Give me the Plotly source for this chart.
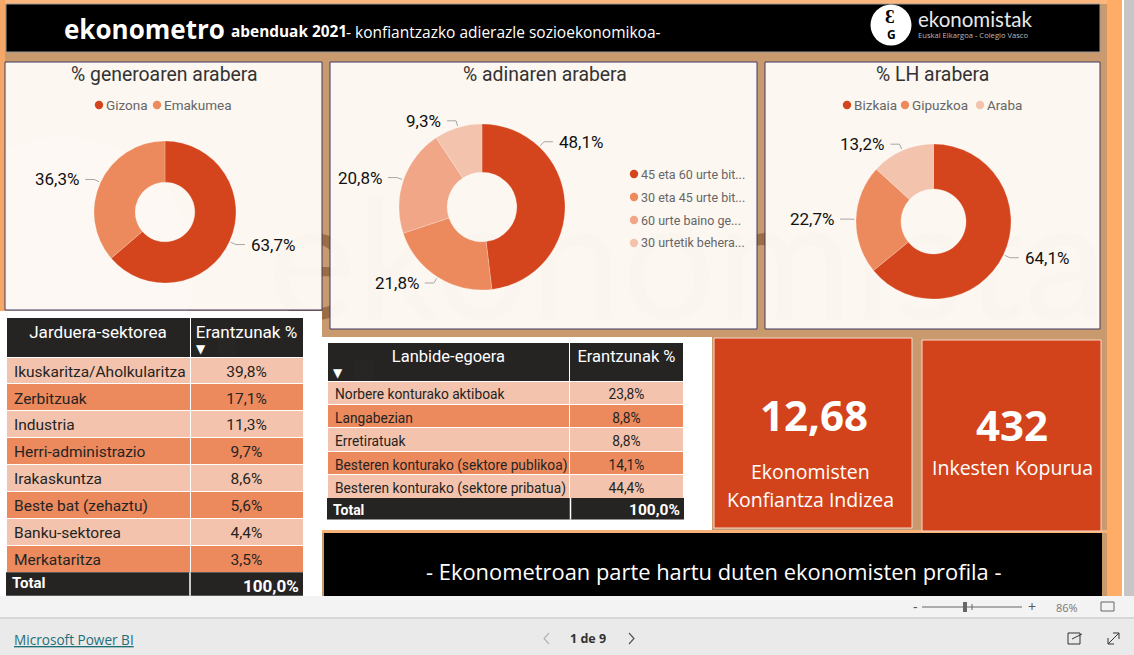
import plotly.graph_objects as go
import math

W, H = 1134, 655
FONT = "Roboto"
SANS = "Open Sans"

# ---- data ----
gender_labels = ["Gizona", "Emakumea"]
gender_values = [63.7, 36.3]
age_labels = ["45 eta 60 urte bit...", "30 eta 45 urte bit...", "60 urte baino ge...", "30 urtetik behera..."]
age_values = [48.1, 21.8, 20.8, 9.3]
lh_labels = ["Bizkaia", "Gipuzkoa", "Araba"]
lh_values = [64.1, 22.7, 13.2]

sector_names = ["Ikuskaritza/Aholkularitza", "Zerbitzuak", "Industria", "Herri-administrazio",
                "Irakaskuntza", "Beste bat (zehaztu)", "Banku-sektorea", "Merkataritza"]
sector_values = [39.8, 17.1, 11.3, 9.7, 8.6, 5.6, 4.4, 3.5]
status_names = ["Norbere konturako aktiboak", "Langabezian", "Erretiratuak",
                "Besteren konturako (sektore publikoa)", "Besteren konturako (sektore pribatua)"]
status_values = [23.8, 8.8, 8.8, 14.1, 44.4]
total_value = 100.0
kpi_index = "12,68"
kpi_surveys = "432"

RED, ORANGE, SALMON, PALE = "#D5451D", "#EC8A5E", "#F0A687", "#F4C3AD"
DARK = "#252423"
CARD = "#FFFBF7"
TAN = "#C99A6E"
AMBER = "#FFAD66"
NAVY = "#3B3663"
NB = "\u00a0"


def px(x):
    return x / W


def py(y):
    return 1 - y / H


def fmt(v):
    return f"{v:.1f}%".replace(".", ",")


shapes, notes = [], []


def rect(x0, y0, x1, y1, fill, line=None, lw=1, opacity=None, **kw):
    d = dict(type="rect", xref="paper", yref="paper", x0=px(x0), x1=px(x1), y0=py(y0), y1=py(y1),
             fillcolor=fill, line=dict(color=line or "rgba(0,0,0,0)", width=lw if line else 0), layer="below")
    if opacity is not None:
        d["opacity"] = opacity
    d.update(kw)
    shapes.append(d)


def dot(x, y, r, fill):
    shapes.append(dict(type="circle", xref="paper", yref="paper", x0=px(x - r), x1=px(x + r),
                       y0=py(y + r), y1=py(y - r), fillcolor=fill, line=dict(width=0), layer="below"))


def path(points, color, width=1):
    d = "M " + " L ".join(f"{px(x):.5f},{py(y):.5f}" for x, y in points)
    shapes.append(dict(type="path", xref="paper", yref="paper", path=d,
                       line=dict(color=color, width=width), layer="below"))


def text(x, y, s, size, color="#000000", anchor="left", family=FONT, va="middle"):
    notes.append(dict(xref="paper", yref="paper", x=px(x), y=py(y), text=s, showarrow=False,
                      xanchor=anchor, yanchor=va, borderpad=0,
                      font=dict(size=size, color=color, family=family)))


# ---- page background ----
rect(0, 0, W, H, "#FFFFFF")
rect(0, 0, 1107, 596, TAN)
# faint watermark, shows through the semi-opaque cards
dot(62, 270, 133, "rgba(255,255,255,0.25)")
shapes.append(dict(type="rect", xref="paper", yref="paper", x0=px(262), x1=px(1262), y0=py(152), y1=py(352),
                   fillcolor="rgba(0,0,0,0)", line=dict(width=0), layer="below",
                   label=dict(text="ekonomista", textposition="middle left",
                              font=dict(size=166, color="rgba(125,80,40,0.6)", family="Lato"))))
rect(0, 0, 1122, 4, "#FBB77E")
rect(0, 0, 5, 311, "#F5A768")
rect(1107, 0, 1122, 596, AMBER)
rect(1124, 0, W, 596, "#C6C6C6")

# ---- header ----
rect(6, 4, 1100, 52, "#000000", line="#9A9A9A", lw=1)
text(63, 29, "<b>ekonometro</b>", 26, "#FFFFFF", family=SANS)
text(230, 32, "<b>abenduak 2021</b>", 15.4, "#FFFFFF", family=SANS)
text(345, 32, "- konfiantzazko adierazle sozioekonomikoa-", 15.5, "#FFFFFF", family=SANS)
dot(891, 25, 20.5, "#FFFFFF")
text(890, 16, "<b>Ɛ</b>", 18, "#000000", "center", SANS)
text(891, 34, "<b>G</b>", 12, "#000000", "center", SANS)
text(917, 19, "ekonomistak", 20.5, "#E8E8E8", family="Lato")
text(917, 35, "Euskal Elkargoa - Colegio Vasco", 7.6, "#BBBBBB", family=SANS)

# ---- cards ----
rect(5, 62, 322, 310, CARD, line=NAVY, lw=1, opacity=0.96)
rect(330, 62, 757, 329, CARD, line=NAVY, lw=1, opacity=0.96)
rect(765, 62, 1100, 329, CARD, line=NAVY, lw=1, opacity=0.96)

# ---- white plates behind the tables ----
rect(0, 311, 322, 596, "#FFFFFF")
rect(322, 337, 712, 531, "#FFFFFF")
rect(712, 530, 1107, 533, "#F7B27A")
rect(322, 530, 712, 533, "#F7B27A")
rect(324, 533, 1102, 596, "#000000")
text(713, 571, "- Ekonometroan parte hartu duten ekonomisten profila -", 21.9, "#FFFFFF", "center", SANS)

# ---- KPI tiles ----
rect(714, 338, 912, 528, "#D3431B", line="#F6D9CB", lw=1)
rect(922, 340, 1101, 531, "#D3431B", line="#F6D9CB", lw=1)
text(814, 414, f"<b>{kpi_index}</b>", 42, "#FFFFFF", "center", SANS)
text(810, 471, "Ekonomisten", 19.5, "#FFFFFF", "center", SANS)
text(810, 499, "Konfiantza Indizea", 19.5, "#FFFFFF", "center", SANS)
text(1012, 424, f"<b>{kpi_surveys}</b>", 42, "#FFFFFF", "center", SANS)
text(1012, 468, "Inkesten Kopurua", 19.5, "#FFFFFF", "center", SANS)


# ---- donuts ----
def donut(labels, values, colors, cx, cy, r, leader_angle=None):
    trace = go.Pie(labels=labels, values=values, sort=False, direction="clockwise", rotation=0,
                   hole=0.42, textinfo="none", hoverinfo="skip", showlegend=False,
                   marker=dict(colors=colors, line=dict(color="rgba(255,255,255,0.35)", width=0.6)),
                   domain=dict(x=[px(cx - r), px(cx + r)], y=[py(cy + r), py(cy - r)]))
    leader_angle = leader_angle or {}
    total, cum = sum(values), 0
    for i, v in enumerate(values):
        a = (cum + v / 2) / total * 2 * math.pi
        cum += v
        a = leader_angle.get(i, a)
        sx, cx_ = math.sin(a), math.cos(a)
        p0 = (cx + (r + 1.5) * sx, cy - (r + 1.5) * cx_)
        p1 = (cx + (r + 7) * sx, cy - (r + 7) * cx_)
        side = 1 if sx >= 0 else -1
        p2 = (p1[0] + side * 9, p1[1])
        path([p0, p1, p2], "#A9A6A3", 1)
        text(p2[0] + side * 5, p2[1], fmt(v), 17, "#111111", "left" if side > 0 else "right")
    return trace


fig = go.Figure()
fig.add_trace(donut(gender_labels, gender_values, [RED, ORANGE], 165, 212, 71))
fig.add_trace(donut(age_labels, age_values, [RED, ORANGE, SALMON, PALE], 482, 207, 83, {0: 0.76}))
fig.add_trace(donut(lh_labels, lh_values, [RED, ORANGE, PALE], 933.5, 221.5, 77.5))

# card titles
text(164.5, 74, "% generoaren arabera", 19.4, "#333333", "center")
text(545, 74, "% adinaren arabera", 19.4, "#333333", "center")
text(932, 74, "% LH arabera", 19.4, "#333333", "center")


def legend(labels, colors, xs, y):
    for lab, col, x in zip(labels, colors, xs):
        dot(x, y, 4.2, col)
        text(x + 6, y, lab, 13.5, "#666666")


legend(gender_labels, [RED, ORANGE], [99, 157], 105)
legend(lh_labels, [RED, ORANGE, PALE], [847, 905, 980], 105)
for lab, col, y in zip(age_labels, [RED, ORANGE, SALMON, PALE], [174, 197, 220, 243]):
    dot(634, y, 4.2, col)
    text(640, y, lab, 12.5, "#666666")


# ---- tables ----
def nb(s):
    return s.replace(" ", NB)


def table(names, values, head, x0, x1, split, y0, head_h, row_h, total_h, fs, head_fs, total_fs, total_pct_fs, total_y, pct_y, arrow_at):
    rows_y = y0 + head_h + row_h * len(names)
    n = len(names)
    fills = [PALE if i % 2 == 0 else ORANGE for i in range(n)]
    h0, h1 = head
    fig.add_trace(go.Table(
        domain=dict(x=[px(x0), px(x1)], y=[py(rows_y), py(y0)]),
        columnwidth=[split - x0, x1 - split],
        header=dict(values=[nb(h0), nb(h1)], height=head_h, fill_color=DARK,
                    align=["center", "center"],
                    line=dict(color="#FFFFFF", width=1),
                    font=dict(family=FONT, size=head_fs, color="#FFFFFF")),
        cells=dict(values=[[nb(s) for s in names], [fmt(v) for v in values]], height=row_h,
                   fill_color=[fills, fills], align=["left", "center"],
                   line=dict(color="#FFFFFF", width=1),
                   font=dict(family=FONT, size=fs, color=DARK)),
    ))
    # total row
    rect(x0, rows_y, x1, rows_y + total_h, DARK)
    path([(split, rows_y), (split, rows_y + total_h)], "#FFFFFF", 1.5)
    text(x0 + 5, total_y, "<b>Total</b>", total_fs, "#FFFFFF")
    text(x1 - 3, pct_y, f"<b>{fmt(total_value)}</b>", total_pct_fs, "#FFFFFF", "right")
    # sort arrow in the header
    ax, ay = arrow_at
    fig.add_trace(go.Table(
        domain=dict(x=[px(ax - 8), px(ax + 22)], y=[py(ay + 14), py(ay - 14)]),
        header=dict(values=["▼"], height=28, fill_color="rgba(0,0,0,0)", align="left",
                    line=dict(color="rgba(0,0,0,0)", width=0),
                    font=dict(family="DejaVu Sans", size=12, color="#FFFFFF")),
        cells=dict(values=[[]]),
    ))


table(sector_names, sector_values, ("Jarduera-sektorea", "Erantzunak %"),
      6, 303, 190, 317, 40, 26.9, 23.5, 15.5, 17.1, 15, 17, 583, 586, (196, 350))
table(status_names, status_values, ("Lanbide-egoera", "Erantzunak %"),
      327, 684, 570.5, 342, 39, 23.4, 21.5, 13.75, 16.5, 14, 15.5, 510, 510, (333, 374))

# ---- Power BI footer ----
rect(0, 596, W, 618, "#F3F3F3")
rect(0, 617, W, 619, "#D6D6D6")
rect(0, 619, W, H, "#EAEAEA")
text(13, 639, "<u>Microsoft Power BI</u>", 13.6, "#1F6F78", family=SANS)
text(588, 638, "<b>1 de 9</b>", 12.5, "#333333", "center", SANS)
path([(549, 633), (544, 638.5), (549, 644)], "#B5B5B5", 1.2)
path([(629, 633), (634, 638.5), (629, 644)], "#555555", 1.2)
text(915, 606, "-", 14, "#555555", "center", SANS)
path([(922, 607), (1022, 607)], "#666666", 1)
rect(963, 602, 967, 612, "#666666")
path([(972, 604), (972, 610)], "#666666", 1)
text(1032, 606, "+", 14, "#555555", "center", SANS)
text(1067, 607, "86%", 11, "#777777", "center", SANS)
rect(1101, 602, 1114, 611, "#F3F3F3", line="#666666", lw=1)
rect(1068, 633, 1080, 644, "#EAEAEA", line="#333333", lw=1)
path([(1072, 639), (1082, 634)], "#333333", 1)
path([(1108, 644), (1119, 633)], "#333333", 1)
path([(1113, 633), (1119, 633), (1119, 639)], "#333333", 1)
path([(1108, 638), (1108, 644), (1114, 644)], "#333333", 1)

fig.update_layout(width=W, height=H, margin=dict(l=0, r=0, t=0, b=0), paper_bgcolor="#FFFFFF",
                  shapes=shapes, annotations=notes, showlegend=False)

fig.write_html("out.html", config=dict(displayModeBar=False, responsive=False),
               post_script="document.body.style.margin='0';document.body.style.overflow='hidden';")
